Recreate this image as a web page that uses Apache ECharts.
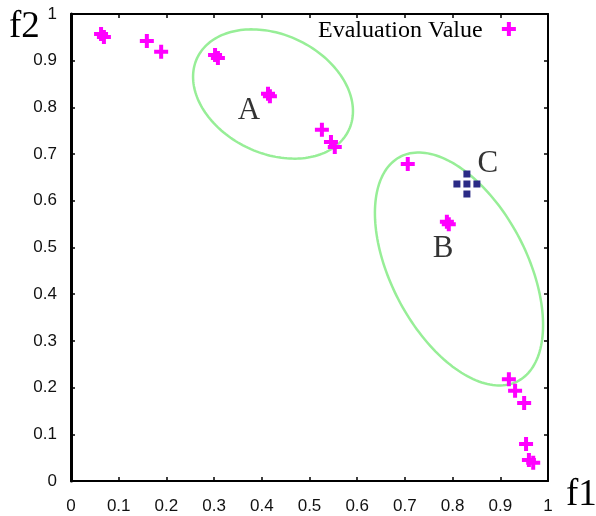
<!DOCTYPE html>
<html>
<head>
<meta charset="utf-8">
<script src="https://cdn.jsdelivr.net/npm/echarts@6/dist/echarts.min.js"></script>
<style>html,body{margin:0;padding:0;background:#fff}#c{width:596px;height:516px}</style>
</head>
<body>
<div id="c"></div>
<script>
// Evaluated solutions (f1, f2)
var solutionsF1 = [0.063, 0.069, 0.159, 0.189, 0.302, 0.308, 0.413, 0.417, 0.526, 0.545, 0.553,
                   0.706, 0.788, 0.792, 0.918, 0.918, 0.931, 0.950, 0.954, 0.960, 0.969];
var solutionsF2 = [0.957, 0.951, 0.942, 0.919, 0.912, 0.906, 0.829, 0.824, 0.752, 0.726, 0.715,
                   0.679, 0.555, 0.550, 0.968, 0.218, 0.193, 0.167, 0.079, 0.045, 0.039];
// Point C
var pointCF1 = [0.830];
var pointCF2 = [0.636];
// Clusters: centre f1, centre f2, semi-major, semi-minor, angle (deg)
var clusterNames = ['A', 'B'];
var clusterCx = [0.4235, 0.8134];
var clusterCy = [0.8287, 0.4540];
var clusterA = [0.1767, 0.270];
var clusterB = [0.1266, 0.1428];
var clusterAngle = [-27, -63.2];
// Annotation labels
var labelTexts = ['A', 'B', 'C'];
var labelF1 = [0.373, 0.780, 0.874];
var labelF2 = [0.792, 0.497, 0.679];
// Tick labels
var tickLabels = ['0', '0.1', '0.2', '0.3', '0.4', '0.5', '0.6', '0.7', '0.8', '0.9', '1'];

var plusPath = 'path://M5,0h4v5h5v4h-5v5h-4v-5h-5v-4h5z';
var squaresPath = 'path://M10,0h7v7h-7z M0,10h7v7h-7z M10,10h7v7h-7z M20,10h7v7h-7z M10,20h7v7h-7z';

function fmt(v) { return tickLabels[Math.round(v * 10)] || ''; }

var solData = solutionsF1.map(function (x, i) { return [x, solutionsF2[i]]; });
var cData = pointCF1.map(function (x, i) { return [x, pointCF2[i]]; });
var ellData = clusterNames.map(function (n, i) {
  return [clusterCx[i], clusterCy[i], clusterA[i], clusterB[i], clusterAngle[i]];
});
var lblData = labelTexts.map(function (t, i) { return {value: [labelF1[i], labelF2[i]], name: t}; });

var chart = echarts.init(document.getElementById('c'));
var tickFont = {fontFamily: 'Liberation Sans, Arial, sans-serif', fontSize: 17, color: '#111'};
chart.setOption({
  animation: false,
  backgroundColor: '#fff',
  grid: {left: 71, right: 48, top: 14, bottom: 35},
  xAxis: [
    {type: 'value', min: 0, max: 1, interval: 0.1, position: 'bottom',
     axisLine: {onZero: false, lineStyle: {color: '#000', width: 2}},
     axisTick: {inside: true, length: 4, lineStyle: {color: '#000', width: 1.5}},
     axisLabel: Object.assign({margin: 17, formatter: fmt}, tickFont),
     splitLine: {show: false}},
    {type: 'value', min: 0, max: 1, interval: 0.1, position: 'top',
     axisLine: {onZero: false, lineStyle: {color: '#000', width: 2}},
     axisTick: {inside: true, length: 4, lineStyle: {color: '#000', width: 1.5}},
     axisLabel: {show: false}, splitLine: {show: false}}
  ],
  yAxis: [
    {type: 'value', min: 0, max: 1, interval: 0.1, position: 'left',
     axisLine: {onZero: false, lineStyle: {color: '#000', width: 3}},
     axisTick: {inside: true, length: 4, lineStyle: {color: '#000', width: 1.5}},
     axisLabel: Object.assign({margin: 14, formatter: fmt}, tickFont),
     splitLine: {show: false}},
    {type: 'value', min: 0, max: 1, interval: 0.1, position: 'right',
     axisLine: {onZero: false, lineStyle: {color: '#000', width: 2}},
     axisTick: {inside: true, length: 4, lineStyle: {color: '#000', width: 1.5}},
     axisLabel: {show: false}, splitLine: {show: false}}
  ],
  graphic: [
    {type: 'text', left: 9, top: 9, style: {text: 'f2', font: '37px "Liberation Serif", "Times New Roman", serif', fill: '#000'}},
    {type: 'text', left: 566, top: 477, style: {text: 'f1', font: '37px "Liberation Serif", "Times New Roman", serif', fill: '#000'}},
    {type: 'text', left: 318, top: 19, style: {text: 'Evaluation Value', font: '24px "Liberation Serif", "Times New Roman", serif', fill: '#000'}}
  ],
  series: [
    {type: 'custom', xAxisIndex: 0, yAxisIndex: 0, data: ellData, z: 1,
     renderItem: function (params, api) {
       var c = api.coord([api.value(0), api.value(1)]);
       var s = api.size([1, 1]);
       var a = api.value(2), b = api.value(3), ang = api.value(4) * Math.PI / 180;
       var pts = [];
       for (var k = 0; k < 180; k++) {
         var t = k / 180 * Math.PI * 2;
         var u = a * Math.cos(t), v = b * Math.sin(t);
         var dx = u * Math.cos(ang) - v * Math.sin(ang);
         var dy = u * Math.sin(ang) + v * Math.cos(ang);
         pts.push([c[0] + dx * s[0], c[1] - dy * s[1]]);
       }
       return {type: 'polygon', shape: {points: pts},
               style: {fill: 'none', stroke: '#97ee97', lineWidth: 2.5}};
     }},
    {type: 'scatter', data: solData, symbol: plusPath, symbolSize: 14,
     itemStyle: {color: '#ff00ff', opacity: 1}, z: 3},
    {type: 'scatter', data: cData, symbol: squaresPath, symbolSize: 27,
     itemStyle: {color: '#2b2b86', opacity: 1}, z: 3},
    {type: 'scatter', data: lblData, symbolSize: 0, z: 4,
     label: {show: true, position: 'inside', formatter: '{b}',
             fontFamily: 'Liberation Serif, Times New Roman, serif', fontSize: 31, color: '#000'}}
  ]
});
</script>
</body>
</html>
